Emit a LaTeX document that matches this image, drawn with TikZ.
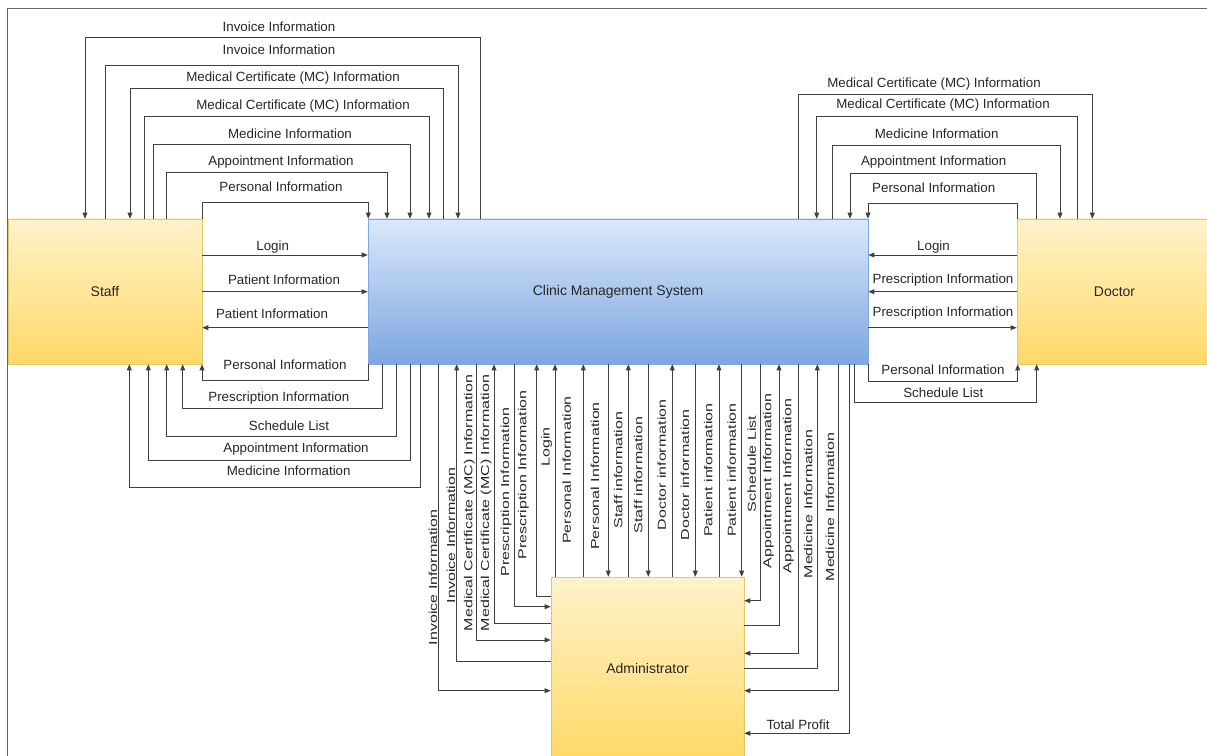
\documentclass[tikz,border=0pt]{standalone}
\usepackage{fontspec}
\usepackage{graphicx}
\setmainfont{Liberation Sans}
\usetikzlibrary{arrows.meta}
\definecolor{staffA}{HTML}{FFF2CC}
\definecolor{staffB}{HTML}{FFD966}
\definecolor{staffline}{HTML}{E3C86A}
\definecolor{sysA}{HTML}{DAE8FC}
\definecolor{sysB}{HTML}{7EA6E0}
\definecolor{sysline}{HTML}{7EA6E0}
\newcommand{\vtext}[1]{\scalebox{1.38}[1]{#1}}
\begin{document}
\begin{tikzpicture}[x=0.75pt, y=-0.75pt, font=\fontsize{10}{12}\selectfont,
    box/.style = {rectangle, draw, line width=0.4pt, inner sep=0pt, text=black!85,
                  font=\fontsize{10.5}{12}\selectfont},
    ent/.style = {box, draw=staffline, top color=staffA, bottom color=staffB},
    flow/.style = {draw=black!75, line width=0.6pt},
    fwd/.style = {flow, -{Triangle[length=4.5pt, width=3.6pt]}},
    bwd/.style = {flow, {Triangle[length=4.5pt, width=3.6pt]}-},
    lbl/.style = {text=black!85, inner sep=0pt},
    vlbl/.style = {lbl, rotate=90, font=\fontsize{8.7}{10}\selectfont}]
    \useasboundingbox (0,0) rectangle (1207,756);
    \draw[black!60, line width=0.6pt] (7.5,8) rectangle (1240,790);

    % the four boxes
    \node[ent, minimum width=145.5pt, minimum height=108.75pt] (staff) at (105,291.5) {Staff};
    \node[box, draw=sysline, top color=sysA, bottom color=sysB,
          minimum width=375pt, minimum height=108.75pt] (cms) at (618,291.5) {Clinic Management System};
    \node[ent, minimum width=146.25pt, minimum height=108.75pt] (doctor) at (1114.5,291.5) {Doctor};
    \node[ent, minimum width=144.75pt, minimum height=137.25pt] (admin) at (647.5,668.5) {Administrator};

    % Staff <-> system, over the top
    \foreach \xs/\xc/\yy/\d/\txt/\lx/\ly [count=\i] in {
        85/480.7/37.7/bwd/Invoice Information/279/26.7,
        105.7/458/65.7/fwd/Invoice Information/279/50,
        130/443/88.3/bwd/Medical Certificate (MC) Information/293/77.7,
        144/429/116/fwd/Medical Certificate (MC) Information/303/106,
        153.3/410/144/fwd/Medicine Information/290/134,
        166.7/387/172.3/fwd/Appointment Information/281/162,
        202/368.3/202.7/fwd/Personal Information/281/186.7}{
        \draw[\d] (staff.north -| \xs,0) |- (\xc,\yy) -- (cms.north -| \xc,0);
        \node[lbl] (st\i) at (\lx,\ly) {\txt};
    }
    \foreach \yy/\d/\txt/\lx/\ly [count=\i] in {
        255/fwd/Login/272.7/246.7,
        291.7/fwd/Patient Information/284/280,
        327.7/bwd/Patient Information/272/313.3}{
        \draw[\d] (staff.east |- 0,\yy) -- (cms.west |- 0,\yy);
        \node[lbl] (sm\i) at (\lx,\ly) {\txt};
    }
    \foreach \xs/\xc/\yy/\txt/\lx/\ly [count=\i] in {
        202/368.3/380/Personal Information/285/364.3,
        182.7/382.7/408.3/Prescription Information/278.8/397.7,
        166.7/396/436.7/Schedule List/289/426,
        148.3/410.7/460/Appointment Information/296/449.3,
        129.3/420/487.7/Medicine Information/288.7/471}{
        \draw[bwd] (staff.south -| \xs,0) |- (\xc,\yy) -- (cms.south -| \xc,0);
        \node[lbl] (sb\i) at (\lx,\ly) {\txt};
    }

    % system <-> Doctor
    \foreach \xc/\xd/\yy/\d/\txt/\lx/\ly [count=\i] in {
        798.3/1092.3/94.3/fwd/Medical Certificate (MC) Information/934/84,
        816.7/1077.7/116.7/bwd/Medical Certificate (MC) Information/943/105,
        832.7/1060/145/fwd/Medicine Information/936.7/134,
        850/1036.7/173.3/bwd/Appointment Information/933.7/161.7,
        868/1017.7/203.3/bwd/Personal Information/933.7/187.7}{
        \draw[\d] (cms.north -| \xc,0) |- (\xd,\yy) -- (doctor.north -| \xd,0);
        \node[lbl] (dt\i) at (\lx,\ly) {\txt};
    }
    \foreach \yy/\d/\txt/\lx/\ly [count=\i] in {
        255/bwd/Login/933.5/246.7,
        291.7/bwd/Prescription Information/943/280,
        327.7/fwd/Prescription Information/943/313.3}{
        \draw[\d] (cms.east |- 0,\yy) -- (doctor.west |- 0,\yy);
        \node[lbl] (dm\i) at (\lx,\ly) {\txt};
    }
    \foreach \xc/\xd/\yy/\txt/\lx/\ly [count=\i] in {
        868/1017.7/381/Personal Information/943/370,
        854/1036.7/402.3/Schedule List/943.3/392.7}{
        \draw[fwd] (cms.south -| \xc,0) |- (\xd,\yy) -- (doctor.south -| \xd,0);
        \node[lbl] (db\i) at (\lx,\ly) {\txt};
    }

    % system <-> Administrator (upright labels, stretched like the drawing)
    \foreach \x/\yy/\d/\txt/\lx/\ly [count=\i] in {
        438.3/690.7/fwd/Invoice Information/433/577.5,
        456.7/661.7/bwd/Invoice Information/451/535.5,
        476/640/fwd/Medical Certificate (MC) Information/469.3/503,
        494/623.3/bwd/Medical Certificate (MC) Information/486/503,
        514.3/606.7/fwd/Prescription Information/506/492,
        536.7/596/bwd/Prescription Information/523.3/475}{
        \draw[\d] (cms.south -| \x,0) |- (admin.west |- 0,\yy);
        \node[vlbl] (al\i) at (\lx,\ly) {\vtext{\txt}};
    }
    \foreach \x/\d/\txt/\lx/\ly [count=\i] in {
        555/bwd/Login/546.7/447,
        583.3/bwd/Personal Information/566.7/470,
        608.3/fwd/Personal Information/595/476,
        628.3/bwd/Staff information/618.3/470,
        648.3/fwd/Staff information/638.3/475,
        672.3/bwd/Doctor information/661.7/465,
        695.3/fwd/Doctor information/685/475,
        719/bwd/Patient information/708.3/470,
        741.7/fwd/Patient information/731.7/470}{
        \draw[\d] (cms.south -| \x,0) -- (admin.north -| \x,0);
        \node[vlbl] (at\i) at (\lx,\ly) {\vtext{\txt}};
    }
    \foreach \x/\yy/\d/\txt/\lx/\ly [count=\i] in {
        760.7/600.7/fwd/Schedule List/751.7/464,
        779/625/bwd/Appointment Information/768.3/481,
        798.3/653.3/fwd/Appointment Information/788.3/486,
        817.3/668.3/bwd/Medicine Information/808.3/504,
        838.7/690.7/fwd/Medicine Information/830/507}{
        \draw[\d] (cms.south -| \x,0) |- (admin.east |- 0,\yy);
        \node[vlbl] (ar\i) at (\lx,\ly) {\vtext{\txt}};
    }
    \draw[fwd] (cms.south -| 849.3,0) |- (admin.east |- 0,733.3);
    \node[lbl] (profit) at (798,725) {Total Profit};
\end{tikzpicture}
\end{document}
